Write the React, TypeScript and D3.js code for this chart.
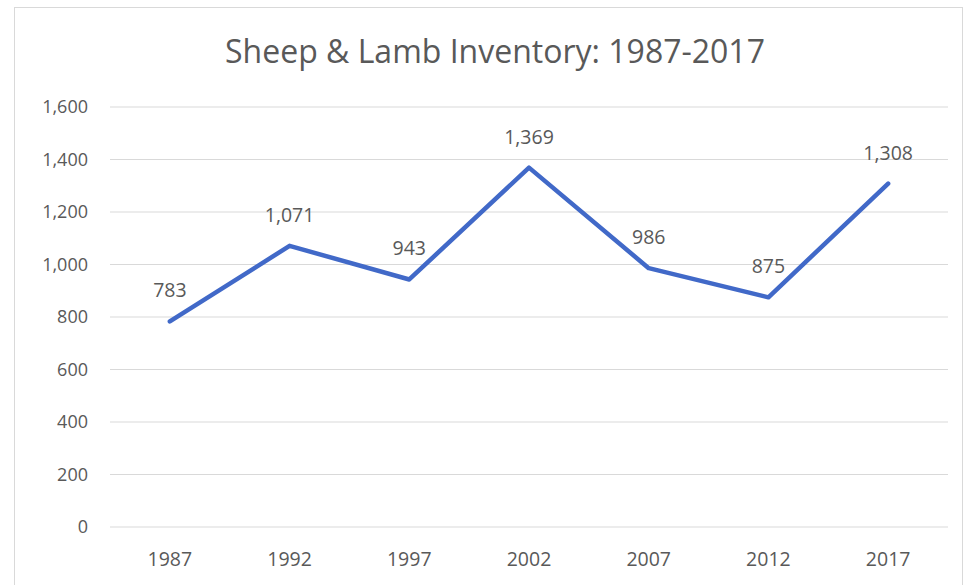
import React from "react";
import * as d3 from "d3";

const title = "Sheep & Lamb Inventory: 1987-2017";
const years = ["1987", "1992", "1997", "2002", "2007", "2012", "2017"];
const inventory = [783, 1071, 943, 1369, 986, 875, 1308];
const yTicks = [0, 200, 400, 600, 800, 1000, 1200, 1400, 1600];

const W = 964;
const H = 585;
const plot = { left: 110, right: 948, top: 107, bottom: 527 };
const font = "'Open Sans', 'Noto Sans', sans-serif";
const textColor = "#595959";

export default function App() {
  const x = d3.scaleBand<string>().domain(years).range([plot.left, plot.right]);
  const y = d3.scaleLinear().domain([0, 1600]).range([plot.bottom, plot.top]);
  const fmt = d3.format(",");
  const line = d3
    .line<number>()
    .x((_, i) => (x(years[i]) as number) + x.bandwidth() / 2)
    .y((d) => y(d));

  return (
    <svg
      width={W}
      height={H}
      style={{ position: "absolute", left: 0, top: 0, background: "#fff" }}
    >
      <rect x={14.5} y={7.5} width={W - 16} height={H} fill="#fff" stroke="#d9d9d9" />
      <text
        x={495}
        y={63}
        textAnchor="middle"
        fontFamily={font}
        fontSize={32}
        fill={textColor}
      >
        {title}
      </text>
      {yTicks.map((t) => (
        <g key={t}>
          <line
            x1={plot.left}
            x2={plot.right}
            y1={y(t)}
            y2={y(t)}
            stroke="#d9d9d9"
            strokeWidth={1.2}
          />
          <text
            x={88}
            y={y(t)}
            dy="0.35em"
            textAnchor="end"
            fontFamily={font}
            fontSize={18}
            fill={textColor}
          >
            {fmt(t)}
          </text>
        </g>
      ))}
      {years.map((yr) => (
        <text
          key={yr}
          x={(x(yr) as number) + x.bandwidth() / 2}
          y={566}
          textAnchor="middle"
          fontFamily={font}
          fontSize={19.5}
          fill={textColor}
        >
          {yr}
        </text>
      ))}
      <path
        d={line(inventory) || ""}
        fill="none"
        stroke="#4169C8"
        strokeWidth={4.5}
        strokeLinejoin="round"
        strokeLinecap="round"
      />
      {inventory.map((v, i) => (
        <text
          key={i}
          x={(x(years[i]) as number) + x.bandwidth() / 2}
          y={y(v) - 24}
          textAnchor="middle"
          fontFamily={font}
          fontSize={19.5}
          fill={textColor}
        >
          {fmt(v)}
        </text>
      ))}
    </svg>
  );
}
